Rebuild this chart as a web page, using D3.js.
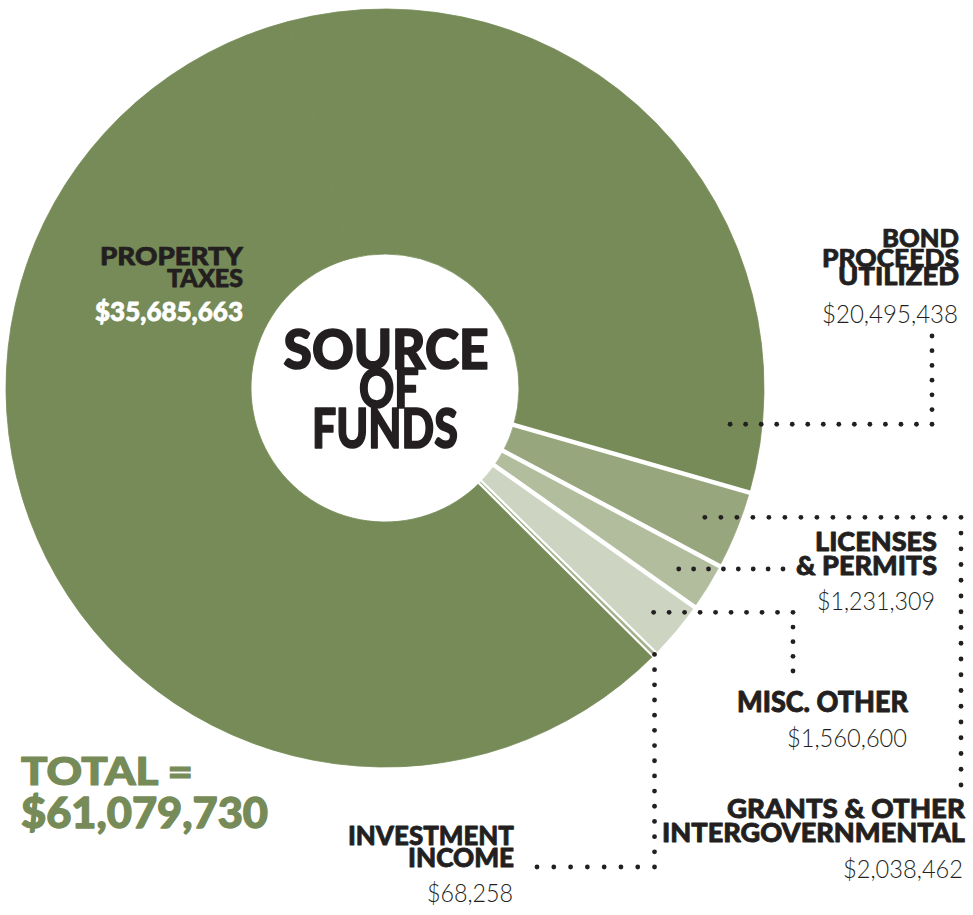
<!DOCTYPE html>
<html><head><meta charset="utf-8">
<script src="https://cdn.jsdelivr.net/npm/d3@7"></script>
<style>
html,body{margin:0;padding:0;background:#fff;}
svg{display:block;}
</style></head><body>
<svg id="chart" width="973" height="915"></svg>
<script>
// ---- data ----
const categories = ["Grants & Other Intergovernmental","Licenses & Permits","Misc. Other","Investment Income","Property Taxes","Bond Proceeds Utilized"];
const values = [2038462, 1231309, 1560600, 68258, 35685663, 20495438];
const labelLines = [["GRANTS & OTHER","INTERGOVERNMENTAL"],["LICENSES","& PERMITS"],["MISC. OTHER"],["INVESTMENT","INCOME"],["PROPERTY","TAXES"],["BOND","PROCEEDS","UTILIZED"]];
const titleLines = ["SOURCE","OF","FUNDS"];
const totalPrefix = "TOTAL =";

// ---- styles / layout (not data) ----
const colors = ["#98a67d","#b2bd9e","#cdd5c2","#a3b08a","#768b57","#768b57"];
const dark = "#768b57", ink = "#231f20";
const cx = 385, cy = 388, R = 379, R0 = 134;
const startDeg = 106;
// right edge x, baselines, font size, widths of each heading line; value: right x, baseline, size, width
const labelLayout = [
  {x:965, base:[818,842], fs:27, w:[238,303], vx:963, vb:878, vfs:25, vw:120},
  {x:937, base:[551,575], fs:27, w:[122,141], vx:935, vb:610, vfs:25, vw:118},
  {x:908, base:[712], fs:29, w:[171], vx:907, vb:747, vfs:26, vw:120},
  {x:514, base:[845,867], fs:27, w:[166,106], vx:513, vb:902, vfs:26, vw:86},
  {x:243, base:[265,287], fs:25, w:[143,76], vx:243, vb:321, vfs:27, vw:148, inside:true},
  {x:959, base:[247,267,285], fs:25, w:[77,137,121], vx:958, vb:323, vfs:26, vw:136}
];
const titleLayout = {cx:[386,389,385], base:[369,408,448], fs:55, w:[205,60,146]};

// pick the heaviest available sans for headings
function pickHeavy(){
  const c = document.createElement("canvas").getContext("2d");
  const s = "SOURCE OF FUNDS 0123456789 INTERGOVERNMENTAL";
  const cands = [["Lato",900],["Roboto",900],["Noto Sans",900],["Inter",900],["Open Sans",800]];
  for (const [f,w] of cands){
    c.font = `${w} 40px "${f}", monospace`; const a = c.measureText(s).width;
    c.font = `700 40px "${f}", monospace`; const b = c.measureText(s).width;
    c.font = `400 40px monospace`; const m = c.measureText(s).width;
    if (Math.abs(a-b) > 0.5 && Math.abs(a-m) > 0.5) return [f,w];
  }
  return ["Lato",700];
}
const [heavyFamily, heavyWeight] = pickHeavy();
const embolden = heavyWeight >= 900 ? 0.03 : 0.065;   // extra stroke weight as fraction of font size

const svg = d3.select("#chart");
const fmt = d3.format("$,");
const rad = d => d * Math.PI / 180;

function addText(str, left, base, fs, width, heavy, fill){
  const col = fill || ink;
  const t = svg.append("text")
    .attr("x", left).attr("y", base)
    .attr("font-family", heavy ? `"${heavyFamily}", Lato, sans-serif` : `Lato, "Open Sans", sans-serif`)
    .attr("font-weight", heavy ? heavyWeight : 300)
    .attr("font-size", fs)
    .attr("textLength", width).attr("lengthAdjust","spacingAndGlyphs")
    .attr("fill", col)
    .text(str);
  if (heavy) t.attr("stroke", col).attr("stroke-width", fs*embolden).attr("stroke-linejoin","round");
  return t;
}

const data = categories.map((c,i)=>({cat:c, value:values[i], i}));
const pie = d3.pie().sort(null).value(d=>d.value)
  .startAngle(rad(startDeg)).endAngle(rad(startDeg)+2*Math.PI);
const arcs = pie(data);
const arc = d3.arc().innerRadius(R0).outerRadius(R);

const g = svg.append("g").attr("transform",`translate(${cx},${cy})`);
g.selectAll("path.slice").data(arcs).join("path")
  .attr("class","slice")
  .attr("d",arc)
  .attr("fill",(d,i)=>colors[i])
  .attr("stroke",(d,i)=>colors[i]).attr("stroke-width",0.8);

// white separators at slice boundaries (none between property taxes and bond proceeds)
const seps = [];
arcs.forEach((a,i)=>{ if(i<4) seps.push(a.startAngle); });
seps.push(arcs[3].endAngle);
g.selectAll("line.sep").data(seps).join("line")
  .attr("class","sep")
  .attr("x1",a=>(R0-2)*Math.sin(a)).attr("y1",a=>-(R0-2)*Math.cos(a))
  .attr("x2",a=>(R+3)*Math.sin(a)).attr("y2",a=>-(R+3)*Math.cos(a))
  .attr("stroke","#fff").attr("stroke-width",4.5);
// keep the tiny investment sliver visible between its separators
g.append("path").attr("d",arc(arcs[3])).attr("fill",colors[3]);

// center title
titleLines.forEach((ln,i)=>{
  const w = titleLayout.w[i];
  addText(ln, titleLayout.cx[i]-w/2, titleLayout.base[i], titleLayout.fs, w, true);
});

// labels
data.forEach((d,i)=>{
  const L = labelLayout[i];
  labelLines[i].forEach((ln,k)=> addText(ln, L.x - L.w[k], L.base[k], L.fs, L.w[k], true));
  addText(fmt(d.value), L.vx - L.vw, L.vb, L.vfs, L.vw, !!L.inside, L.inside ? "#fff" : ink);
});

// total
const total = d3.sum(values);
addText(totalPrefix, 21, 785, 38, 172, true, dark);
addText(fmt(total), 21, 828, 42, 247, true, dark);

// dotted leaders derived from slice angles
const pt = (ang, r) => [cx + r*Math.sin(ang), cy - r*Math.cos(ang)];
const mid = a => (a.startAngle + a.endAngle)/2;
const leaders = [];
{ const p = pt(mid(arcs[0]),345); leaders.push([p,[961,p[1]],[961,785]]); }
{ const p = pt(mid(arcs[1]),345); leaders.push([p,[783,p[1]]]); }
{ const p = pt(mid(arcs[2]),350); leaders.push([p,[793,p[1]],[793,671]]); }
{ const p = pt(mid(arcs[3]),R); leaders.push([p,[p[0],867],[537,867]]); }
{ const p = pt(arcs[5].endAngle - rad(10),347); leaders.push([p,[932,p[1]],[932,336]]); }

const dots = [];
leaders.forEach(pts=>{
  dots.push(pts[0]);
  for(let s=1;s<pts.length;s++){
    const a=pts[s-1], b=pts[s];
    const len=Math.hypot(b[0]-a[0],b[1]-a[1]);
    const n=Math.max(1,Math.round(len/15.7));
    for(let k=1;k<=n;k++) dots.push([a[0]+(b[0]-a[0])*k/n, a[1]+(b[1]-a[1])*k/n]);
  }
});
svg.selectAll("circle.dot").data(dots).join("circle").attr("class","dot")
  .attr("cx",d=>d[0]).attr("cy",d=>d[1]).attr("r",2.4).attr("fill",ink);
</script>
</body></html>
